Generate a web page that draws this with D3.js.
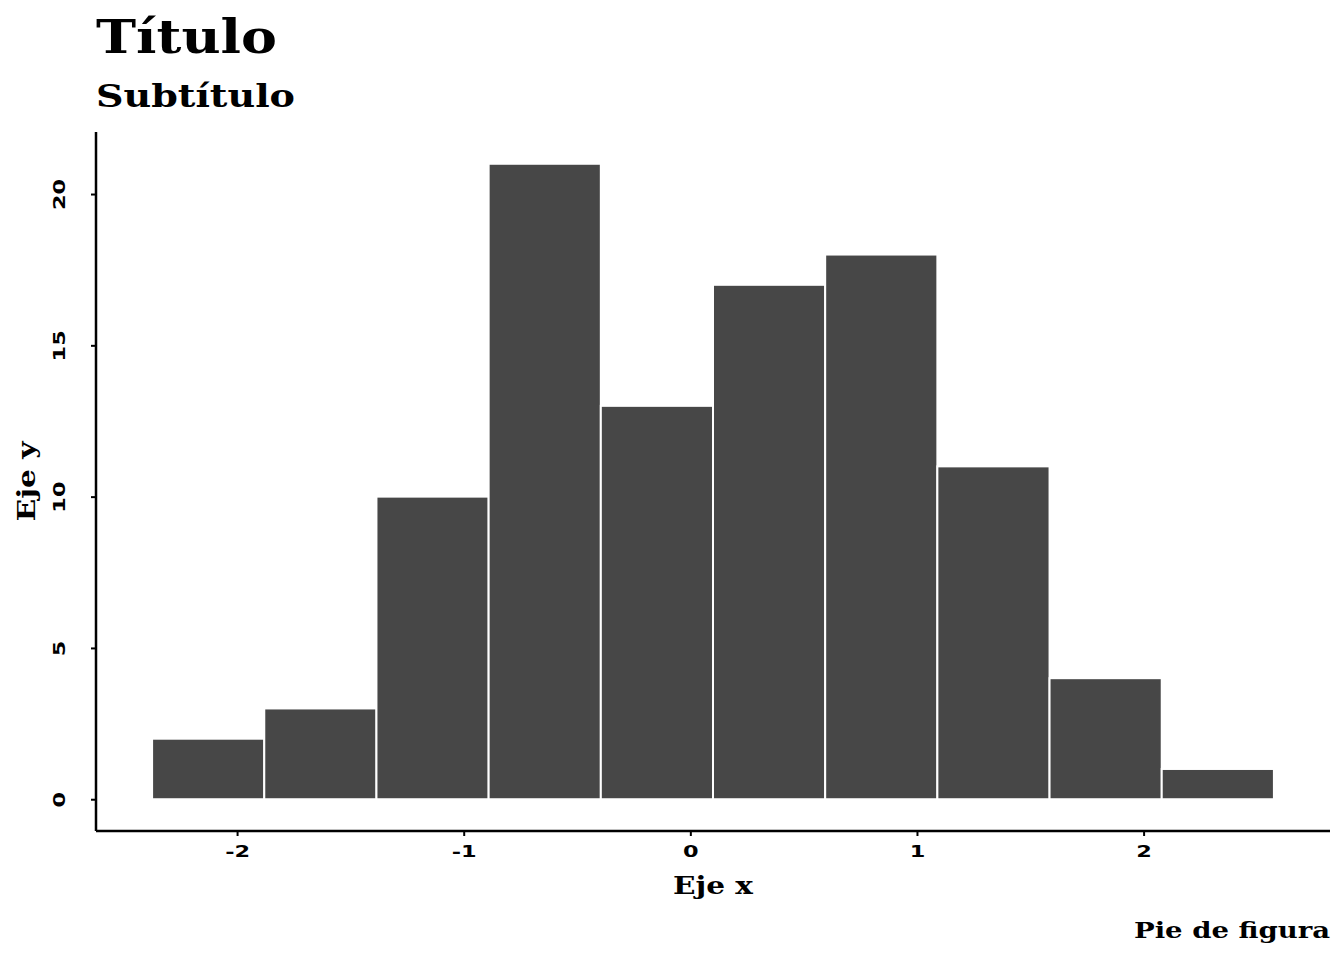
<!DOCTYPE html>
<html>
<head>
<meta charset="utf-8">
<script src="https://cdn.jsdelivr.net/npm/d3@7"></script>
<style>
  body { margin: 0; background: #fff; }
  .serif { font-family: "DejaVu Serif", serif; font-weight: bold; }
  .tick text { font-family: "DejaVu Sans", sans-serif; font-weight: bold; font-size: 16px; fill: #000; }
</style>
</head>
<body>
<div id="chart"></div>
<script>
// Histogram data (bin edges and counts)
const binStart = -2.375
const binWidth = 0.495
const counts = [2, 3, 10, 21, 13, 17, 18, 11, 4, 1]
const xTicks = [-2, -1, 0, 1, 2]
const yTicks = [0, 5, 10, 15, 20]

const W = 1344, H = 960
const margin = { top: 132, bottom: 129, left: 96, right: 14 }

const svg = d3.select("#chart").append("svg")
  .attr("width", W).attr("height", H)

const bins = counts.map((c, i) => ({ x0: binStart + i * binWidth, x1: binStart + (i + 1) * binWidth, n: c }))

const xmin = bins[0].x0, xmax = bins[bins.length - 1].x1
const xpad = (xmax - xmin) * 0.05
const ymax = d3.max(counts)

const x = d3.scaleLinear().domain([xmin - xpad, xmax + xpad]).range([margin.left, W - margin.right])
const y = d3.scaleLinear().domain([-ymax * 0.05, ymax * 1.05]).range([H - margin.bottom, margin.top])

// hyphen minus like the original
const fmt = d => String(d)

// bars
svg.append("g").selectAll("rect")
  .data(bins)
  .join("rect")
  .attr("x", d => x(d.x0))
  .attr("width", d => x(d.x1) - x(d.x0))
  .attr("y", d => y(d.n))
  .attr("height", d => y(0) - y(d.n))
  .attr("fill", "#474747")
  .attr("stroke", "#fff")
  .attr("stroke-width", 2)

// axes
const gx = svg.append("g")
  .attr("transform", `translate(0,${H - margin.bottom})`)
  .call(d3.axisBottom(x).tickValues(xTicks).tickSize(5).tickSizeOuter(0).tickPadding(10).tickFormat(fmt))
gx.select(".domain").attr("stroke-width", 2.5).attr("d", `M${margin.left},0H${W - margin.right}`)
gx.selectAll(".tick line").attr("stroke-width", 2)
gx.selectAll(".tick text").attr("transform", "scale(1.4,1)")

const gy = svg.append("g")
  .attr("transform", `translate(${margin.left},0)`)
  .call(d3.axisLeft(y).tickValues(yTicks).tickSize(5).tickSizeOuter(0).tickPadding(6).tickFormat(fmt))
gy.select(".domain").attr("stroke-width", 2.5).attr("d", `M0,${margin.top}V${H - margin.bottom}`)
gy.selectAll(".tick line").attr("stroke-width", 2)
gy.selectAll(".tick text")
  .attr("x", null).attr("dy", "0.36em")
  .attr("text-anchor", "middle")
  .attr("transform", "translate(-37,0) rotate(-90) scale(1.4,1)")

// titles
svg.append("text").attr("class", "serif")
  .attr("x", 96).attr("y", 53).attr("font-size", 46)
  .attr("textLength", 181).attr("lengthAdjust", "spacingAndGlyphs").text("Título")
svg.append("text").attr("class", "serif")
  .attr("x", 96).attr("y", 107).attr("font-size", 31)
  .attr("textLength", 199).attr("lengthAdjust", "spacingAndGlyphs").text("Subtítulo")

svg.append("text").attr("class", "serif")
  .attr("x", (margin.left + W - margin.right) / 2).attr("y", 894)
  .attr("text-anchor", "middle").attr("font-size", 24)
  .attr("textLength", 80).attr("lengthAdjust", "spacingAndGlyphs").text("Eje x")

svg.append("text").attr("class", "serif")
  .attr("transform", `translate(35,${(margin.top + H - margin.bottom) / 2}) rotate(-90)`)
  .attr("text-anchor", "middle").attr("font-size", 24)
  .attr("textLength", 80).attr("lengthAdjust", "spacingAndGlyphs").text("Eje y")

svg.append("text").attr("class", "serif")
  .attr("x", W - margin.right).attr("y", 938)
  .attr("text-anchor", "end").attr("font-size", 22)
  .attr("textLength", 196).attr("lengthAdjust", "spacingAndGlyphs").text("Pie de figura")
</script>
</body>
</html>
